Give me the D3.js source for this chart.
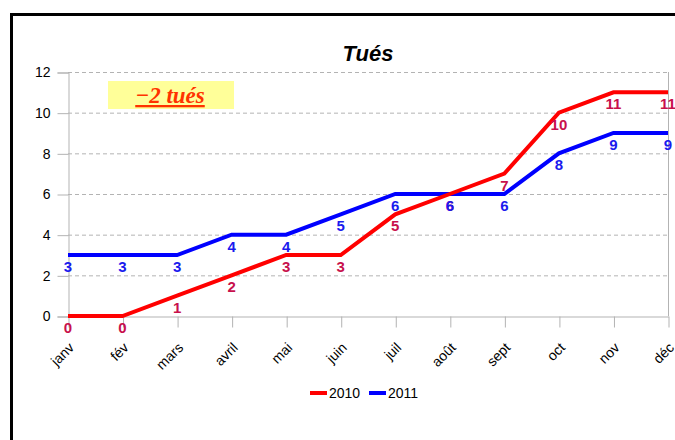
<!DOCTYPE html>
<html><head><meta charset="utf-8">
<script src="https://cdn.jsdelivr.net/npm/d3@7"></script>
<style>body{margin:0;background:#fff}svg{display:block}</style>
</head><body>
<script>
const months = ["janv","fév","mars","avril","mai","juin","juil","août","sept","oct","nov","déc"];
const values2010 = [0,0,1,2,3,3,5,6,7,10,11,11];
const values2011 = [3,3,3,4,4,5,6,6,6,8,9,9];
const yTicks = [0,2,4,6,8,10,12];
const seriesNames = ["2010","2011"];
const title = "Tués";
const annotation = "−2 tués";

const W = 675, H = 440;
const svg = d3.select("body").append("svg").attr("width", W).attr("height", H);
svg.append("rect").attr("width", W).attr("height", H).attr("fill", "#fff");
// outer frame
svg.append("path").attr("d", "M11.5,440 V14.5 H680").attr("fill","none").attr("stroke","#000").attr("stroke-width",3);

const x = d3.scalePoint().domain(months).range([68, 668]);
const y = d3.scaleLinear().domain([0, 12]).range([316, 72]);

// gridlines
svg.append("g").selectAll("line").data(yTicks.filter(d => d > 0)).join("line")
  .attr("x1", 68).attr("x2", 668).attr("y1", d => y(d) + 0.5).attr("y2", d => y(d) + 0.5)
  .attr("stroke", "#b3b3b3").attr("stroke-dasharray", "4,3");
// right border
svg.append("line").attr("x1", 668.5).attr("x2", 668.5).attr("y1", 72).attr("y2", 316).attr("stroke", "#b3b3b3");

// y axis
const ya = svg.append("g").attr("transform", "translate(68.5,0.5)")
  .call(d3.axisLeft(y).tickValues(yTicks).tickSize(11).tickPadding(7));
ya.select(".domain").attr("stroke", "#b3b3b3");
ya.selectAll(".tick line").attr("stroke", "#b3b3b3");
ya.selectAll("text").attr("font-family", "Liberation Sans, Arial, sans-serif").attr("font-size", 14).attr("fill", "#000");

// x axis
const xa = svg.append("g").attr("transform", "translate(0.5,316.5)")
  .call(d3.axisBottom(x).tickSize(11).tickSizeOuter(0));
xa.select(".domain").attr("stroke", "#b3b3b3");
xa.selectAll(".tick line").attr("stroke", "#b3b3b3");
xa.selectAll("text").attr("font-family", "Liberation Sans, Arial, sans-serif").attr("font-size", 14).attr("fill", "#000")
  .attr("text-anchor", "end").attr("dy", null).attr("y", 0)
  .attr("transform", "translate(6,32) rotate(-45)");

// title
svg.append("text").attr("x", 368).attr("y", 61).attr("text-anchor", "middle")
  .attr("font-family", "Liberation Sans, Arial, sans-serif").attr("font-size", 22)
  .attr("font-weight", "bold").attr("font-style", "italic").text(title);

// annotation box
svg.append("rect").attr("x", 108).attr("y", 81).attr("width", 126).attr("height", 28).attr("fill", "#ffff99");
svg.append("text").attr("x", 170).attr("y", 103).attr("text-anchor", "middle")
  .attr("font-family", "Liberation Serif, Times New Roman, serif").attr("font-size", 23)
  .attr("font-weight", "bold").attr("font-style", "italic").attr("fill", "#ff3300")
  .attr("text-decoration", "underline").text(annotation);

const line = d3.line().x((d, i) => x(months[i])).y(d => y(d));
const data = [
  {name: seriesNames[0], vals: values2010, color: "#ff0000", label: "#c8104c"},
  {name: seriesNames[1], vals: values2011, color: "#0000ff", label: "#1a1aee"}
];
// blue first, red on top
[data[1], data[0]].forEach(s => {
  svg.append("path").attr("d", line(s.vals)).attr("fill", "none")
    .attr("stroke", s.color).attr("stroke-width", 4).attr("stroke-linejoin", "miter");
});
data.forEach(s => {
  svg.append("g").selectAll("text").data(s.vals).join("text")
    .attr("x", (d, i) => x(months[i])).attr("y", d => y(d) + 17)
    .attr("text-anchor", "middle")
    .attr("font-family", "Liberation Sans, Arial, sans-serif").attr("font-size", 15)
    .attr("font-weight", "bold").attr("fill", s.label).text(d => d);
});

// legend
const lg = svg.append("g").attr("font-family", "Liberation Sans, Arial, sans-serif").attr("font-size", 14);
[[310, 329, data[0]], [369, 388, data[1]]].forEach(([lx, tx, s]) => {
  lg.append("line").attr("x1", lx).attr("x2", lx + 17).attr("y1", 393).attr("y2", 393)
    .attr("stroke", s.color).attr("stroke-width", 4);
  lg.append("text").attr("x", tx).attr("y", 398).attr("fill", "#000").text(s.name);
});
</script>
</body></html>
